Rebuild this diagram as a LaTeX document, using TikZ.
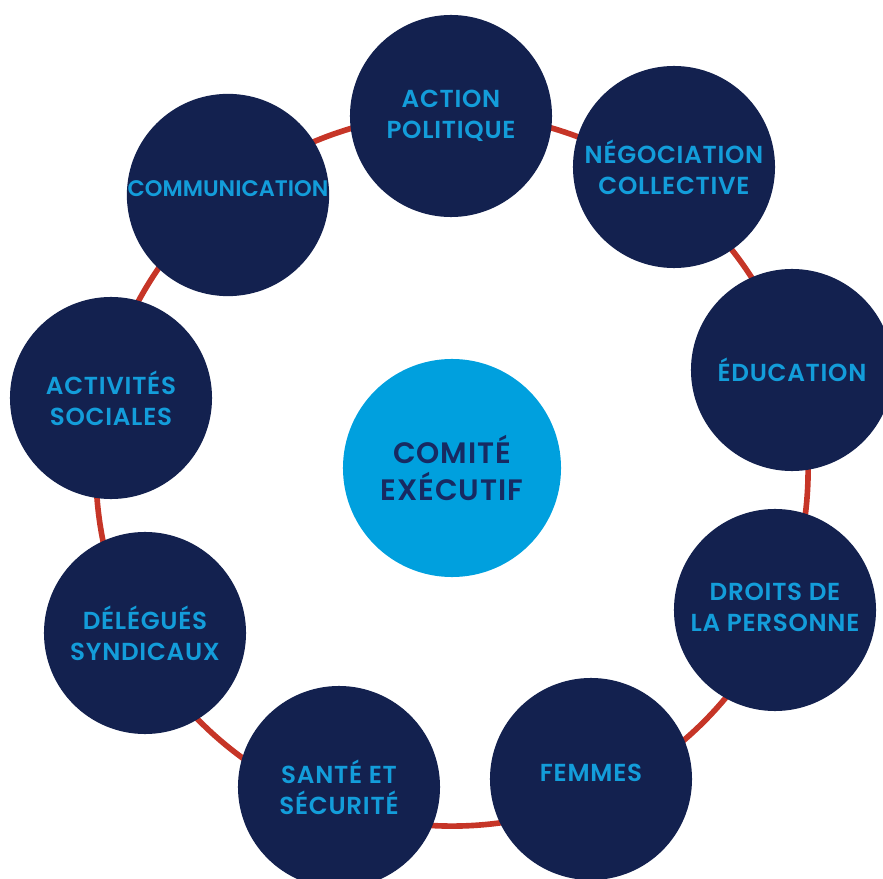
\documentclass[tikz,border=0pt]{standalone}
\usepackage{fontspec}
\setmainfont{Poppins}
\newfontfamily\circlefont{Poppins SemiBold}[LetterSpace=3]
\definecolor{navy}{HTML}{13214F}
\definecolor{skyblue}{HTML}{139DDA}
\definecolor{hubblue}{HTML}{00A0DE}
\definecolor{hubtext}{HTML}{172A62}
\definecolor{ringred}{HTML}{C63527}

\begin{document}
\begin{tikzpicture}[x=0.025cm, y=-0.025cm, main node/.style={circle, fill=navy, minimum size=5.05cm, inner sep=0pt, text=skyblue, align=center, font=\circlefont\fontsize{17.5}{22}\selectfont}, hub node/.style={circle, fill=hubblue, minimum size=5.45cm, inner sep=0pt, text=hubtext, align=center, font=\circlefont\fontsize{21}{26}\selectfont}, ring/.style={draw=ringred, line width=4pt}]
\useasboundingbox (0,0) rectangle (883,879);
\coordinate (c) at (452,470);
\draw[ring] (c) circle [radius=8.9cm];
\node[hub node] (0) at (452,468) {COMITÉ\\EXÉCUTIF};
\node[main node] (1) at (451,116) {\raisebox{2pt}{ACTION}\\\raisebox{2pt}{POLITIQUE}};
\node[main node] (2) at (674,167) {NÉGOCIATION\\COLLECTIVE};
\node[main node] (3) at (792,370) {ÉDUCATION};
\node[main node] (4) at (775,610) {\raisebox{4pt}{DROITS DE}\\\raisebox{4pt}{LA PERSONNE}};
\node[main node] (5) at (591,779) {\raisebox{9pt}{FEMMES}};
\node[main node] (6) at (339,787) {SANTÉ ET\\SÉCURITÉ};
\node[main node] (7) at (145,633) {DÉLÉGUÉS\\SYNDICAUX};
\node[main node] (8) at (111,398) {ACTIVITÉS\\SOCIALES};
\node[main node] (9) at (228,195) {\raisebox{9pt}{\fontsize{16}{22}\selectfont\addfontfeature{LetterSpace=0}COMMUNICATION}};
\end{tikzpicture}
\end{document}
